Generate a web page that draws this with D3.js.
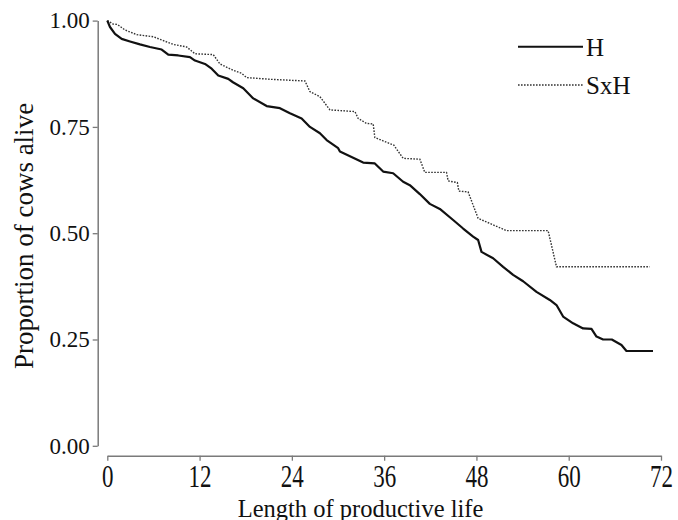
<!DOCTYPE html>
<html>
<head>
<meta charset="utf-8">
<script src="https://cdn.jsdelivr.net/npm/d3@7"></script>
<style>
  body { margin: 0; background: #fff; }
</style>
</head>
<body>
<svg id="chart" width="678" height="520"></svg>
<script>
// survival curves (months, proportion alive)
const hMonths = [0, 0.35, 1.0, 1.87, 2.95, 4.25, 5.55, 7.07, 7.93, 9.23, 10.75, 11.4, 12.7, 13.57, 14.43, 15.73,
    16.34, 17.68, 18.98, 20.72, 22.45, 23.75, 25.27, 26.35, 27.65, 28.52, 30.02, 30.25, 33.27, 34.79, 35.87,
    37.17, 38.47, 39.34, 40.64, 41.94, 43.24, 44.97, 46.27, 47.57, 48.22, 48.66, 50.17, 51.47, 52.77, 54.07,
    55.81, 57.54, 58.41, 59.27, 60.57, 61.87, 62.96, 63.61, 64.47, 65.6, 66.86, 67.51, 70.96];
const hSurv = [1.0, 0.985, 0.969, 0.957, 0.951, 0.944, 0.938, 0.932, 0.920, 0.918, 0.914, 0.906, 0.898, 0.887,
    0.871, 0.863, 0.855, 0.841, 0.817, 0.799, 0.794, 0.782, 0.770, 0.750, 0.735, 0.719, 0.700, 0.692, 0.666,
    0.664, 0.645, 0.641, 0.621, 0.613, 0.592, 0.569, 0.557, 0.531, 0.511, 0.492, 0.484, 0.456, 0.441, 0.421,
    0.402, 0.387, 0.362, 0.343, 0.331, 0.304, 0.288, 0.276, 0.275, 0.257, 0.250, 0.250, 0.237, 0.223, 0.223];

const sxhMonths = [0, 0.74, 1.3, 2.3, 3.82, 5.98, 7.28, 8.58, 10.32, 11.4, 13.78, 14.65, 16.38, 17.47, 18.12,
    21.15, 25.7, 26.35, 27.65, 28.95, 32.2, 32.62, 33.72, 34.57, 34.79, 37.26, 38.47, 40.64, 41.29, 44.11,
    44.32, 45.52, 45.71, 46.92, 48.22, 51.91, 57.32, 58.41, 70.53];
const sxhSurv = [1.0, 0.992, 0.991, 0.978, 0.967, 0.962, 0.953, 0.944, 0.938, 0.922, 0.920, 0.898, 0.883, 0.876,
    0.866, 0.862, 0.858, 0.833, 0.821, 0.790, 0.786, 0.770, 0.758, 0.757, 0.725, 0.707, 0.676, 0.674, 0.643,
    0.643, 0.623, 0.619, 0.599, 0.597, 0.535, 0.506, 0.506, 0.421, 0.421];

const xTicks = [0, 12, 24, 36, 48, 60, 72];
const yTicks = [0, 0.25, 0.5, 0.75, 1];
const seriesNames = ['H', 'SxH'];

const FONT = 'Liberation Serif';
const svg = d3.select('#chart').attr('font-family', FONT);
const x = d3.scaleLinear().domain([0, 72]).range([107.3, 661]);
const y = d3.scaleLinear().domain([0, 1]).range([445.8, 20.6]);
const axisColor = '#7a7a7a';

// y axis
const yAxis = svg.append('g')
    .attr('transform', 'translate(97.7,0)')
    .call(d3.axisLeft(y).tickValues(yTicks).tickFormat(d3.format('.2f')).tickSize(5).tickSizeOuter(0).tickPadding(3))
    .attr('font-family', FONT)
    .attr('font-size', 23);
yAxis.select('.domain').attr('stroke', axisColor).attr('stroke-width', 1.5);
yAxis.selectAll('.tick line').attr('stroke', axisColor).attr('stroke-width', 1.3);
yAxis.selectAll('.tick text').attr('fill', '#111');

// x axis
const xAxis = svg.append('g')
    .attr('transform', 'translate(0,455.7)')
    .call(d3.axisBottom(x).tickValues(xTicks).tickSize(5).tickSizeOuter(0).tickPadding(6))
    .attr('font-family', FONT)
    .attr('font-size', 23);
xAxis.select('.domain').attr('stroke', axisColor).attr('stroke-width', 1.5);
xAxis.selectAll('.tick line').attr('stroke', axisColor).attr('stroke-width', 1.3);
xAxis.selectAll('.tick text')
    .attr('fill', '#111')
    .attr('dy', null)
    .attr('y', 0)
    .attr('transform', 'translate(0,31.5) scale(1,1.35)');

// axis titles
svg.append('text')
    .attr('x', 360.5)
    .attr('y', 517)
    .attr('text-anchor', 'middle')
    .attr('fill', '#111')
    .attr('font-family', FONT)
    .attr('font-size', 24.5)
    .text('Length of productive life');

svg.append('text')
    .attr('transform', 'translate(33,236) rotate(-90)')
    .attr('text-anchor', 'middle')
    .attr('fill', '#111')
    .attr('font-family', FONT)
    .attr('font-size', 27)
    .text('Proportion of cows alive');

// curves
const line = d3.line()
    .x(d => x(d[0]))
    .y(d => y(d[1]));

const hData = hMonths.map((m, i) => [m, hSurv[i]]);
const sxhData = sxhMonths.map((m, i) => [m, sxhSurv[i]]);

svg.append('path')
    .datum(sxhData)
    .attr('d', line)
    .attr('fill', 'none')
    .attr('stroke', '#333')
    .attr('stroke-width', 1.4)
    .attr('stroke-dasharray', '1.6,1.4');

svg.append('path')
    .datum(hData)
    .attr('d', line)
    .attr('fill', 'none')
    .attr('stroke', '#111')
    .attr('stroke-width', 2.2)
    .attr('stroke-linejoin', 'round');

// legend
const legend = svg.append('g');
const legendY = [46.7, 85];
seriesNames.forEach((name, i) => {
    legend.append('line')
        .attr('x1', 518).attr('x2', 583)
        .attr('y1', legendY[i]).attr('y2', legendY[i])
        .attr('stroke', i === 0 ? '#111' : '#333')
        .attr('stroke-width', i === 0 ? 2 : 1.3)
        .attr('stroke-dasharray', i === 0 ? null : '1.6,1.4');
    legend.append('text')
        .attr('x', 586)
        .attr('y', legendY[i] + 9)
        .attr('fill', '#111')
        .attr('font-family', FONT)
        .attr('font-size', 25)
        .text(name);
});
</script>
</body>
</html>
